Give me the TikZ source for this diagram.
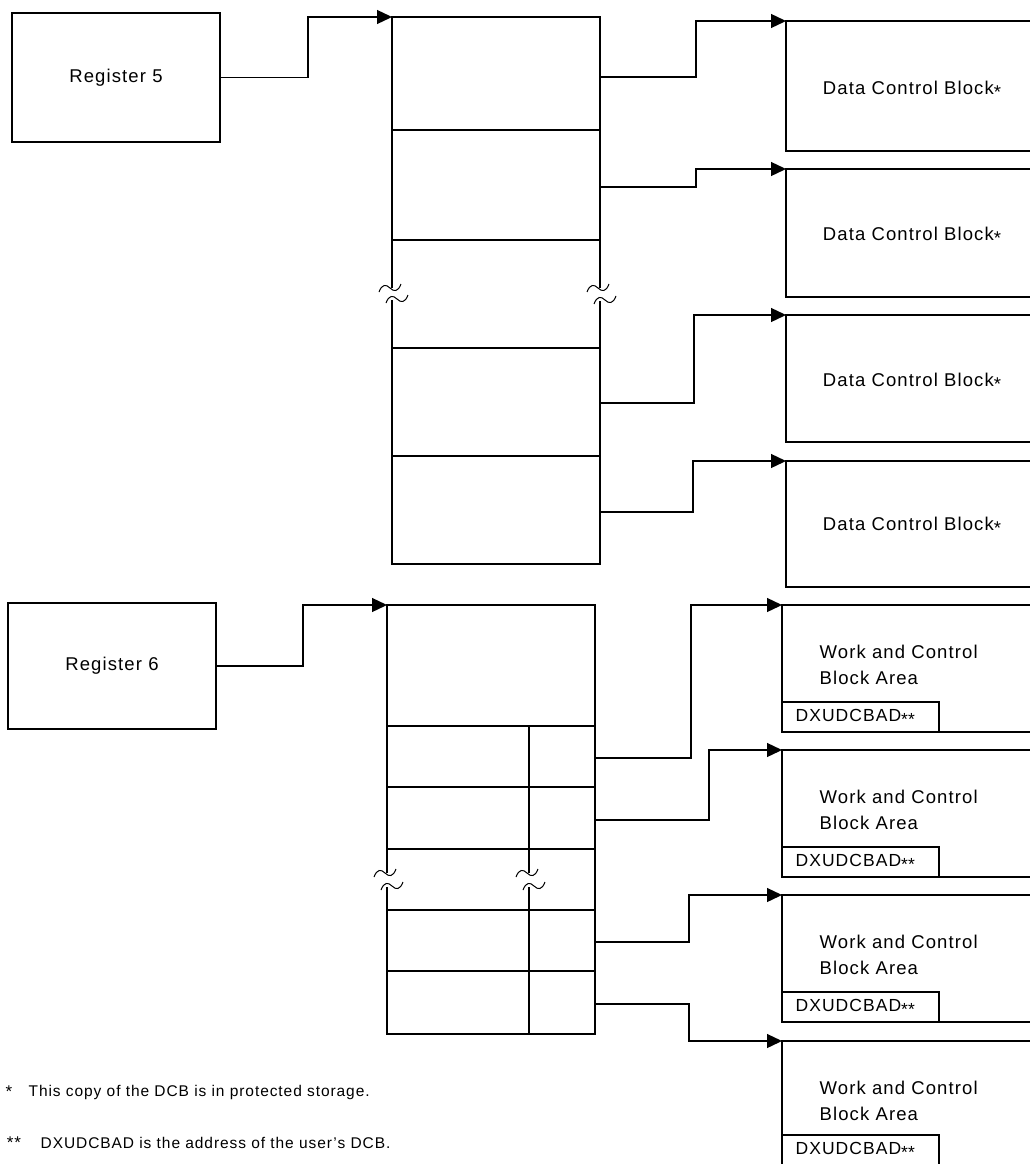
\documentclass[tikz,border=0pt]{standalone}
\usepackage{fontspec}
\setmainfont{Liberation Sans}[LetterSpace=6]
\usetikzlibrary{arrows.meta}
\newcommand\starmark{\raisebox{-4pt}{*}}
\begin{document}
\begin{tikzpicture}[x=1pt,y=-1pt,line width=1.3pt,
  box/.style={draw, inner sep=0pt, outer sep=0pt, anchor=north west},
  lbl/.style={inner sep=0pt, font=\fontsize{18.5}{26}\selectfont},
  tag/.style={inner sep=0pt, anchor=west, font=\fontsize{17.5}{20}\selectfont},
  fn/.style={inner sep=0pt, anchor=west, font=\fontsize{15.5}{18}\selectfont},
  mk/.style={inner sep=0pt, font=\fontsize{17}{17}\selectfont},
  link/.style={draw, -{Triangle[length=15pt,width=14pt]}},
  brk/.pic={\draw[line width=1pt] (-11,4) .. controls (-8,-4) and (-4,-4) .. (0,0) .. controls (4,4) and (8,4) .. (11,-4);}]
\useasboundingbox (0,0) rectangle (1029,1164);

% ---------- register 5 and its pointer table ----------
\node[box, minimum width=208pt, minimum height=129pt] (reg5) at (12,13) {};
\node[lbl] (reg5t) at (reg5.center) {Register 5};

% table outline, broken in the middle
\draw (392,288) -- (392,17) -- (600,17) -- (600,288);
\draw (392,300) -- (392,564) -- (600,564) -- (600,301);
\pic at (390,288) {brk};
\pic at (397,299) {brk};
\pic at (598,288) {brk};
\pic at (605,300) {brk};
\foreach \yy in {130,240,348,456} \draw (392,\yy) -- (600,\yy);
\coordinate (tabA) at (392,17);

% data control blocks
\node[box, minimum width=260pt, minimum height=130pt] (dcb1) at (786,21) {};
\node[box, minimum width=260pt, minimum height=128pt] (dcb2) at (786,169) {};
\node[box, minimum width=260pt, minimum height=127pt] (dcb3) at (786,315) {};
\node[box, minimum width=260pt, minimum height=126pt] (dcb4) at (786,461) {};
\node[lbl] (dcb1t) at (912,90) {Data Control Block\starmark};
\node[lbl] (dcb2t) at (912,236) {Data Control Block\starmark};
\node[lbl] (dcb3t) at (912,382) {Data Control Block\starmark};
\node[lbl] (dcb4t) at (912,526) {Data Control Block\starmark};

% pointer slots of the first table
\coordinate (a1) at (600,77);
\coordinate (a2) at (600,187);
\coordinate (a3) at (600,403);
\coordinate (a4) at (600,512);

\draw[link] (reg5.east) -- ++(88,0) |- (tabA);
\draw[link] (a1) -- ++(96,0) |- (dcb1.north west);
\draw[link] (a2) -- ++(96,0) |- (dcb2.north west);
\draw[link] (a3) -- ++(94,0) |- (dcb3.north west);
\draw[link] (a4) -- ++(93,0) |- (dcb4.north west);

% ---------- register 6 and its pointer table ----------
\node[box, minimum width=208pt, minimum height=126pt] (reg6) at (8,603) {};
\node[lbl] (reg6t) at (reg6.center) {Register 6};

\draw (387,873) -- (387,605) -- (595,605) -- (595,1034) -- (387,1034) -- (387,887);
\pic at (385,873) {brk};
\pic at (392,886) {brk};
\draw (529,726) -- (529,873);
\draw (529,887) -- (529,1034);
\pic at (527,873) {brk};
\pic at (534,886) {brk};
\foreach \yy in {726,787,849,910,971} \draw (387,\yy) -- (595,\yy);
\coordinate (tabB) at (387,605);

% work and control block areas
\foreach \i/\top/\h in {1/605/127, 2/750/127, 3/895/127, 4/1041/124} {
  \node[box, minimum width=264pt, minimum height=\h pt] (wcb\i) at (782,\top) {};
  \node[box, minimum width=157pt, minimum height=30pt, anchor=south west] (wsub\i) at (wcb\i.south west) {};
  \node[lbl, align=left, anchor=west] (wcbt\i) at (819,\top+60) {Work and Control\\Block Area};
  \node[tag] (wsubt\i) at ([xshift=13pt]wsub\i.west) {DXUDCBAD\starmark\starmark};
}

\coordinate (b1) at (595,758);
\coordinate (b2) at (595,820);
\coordinate (b3) at (595,942);
\coordinate (b4) at (595,1004);

\draw[link] (reg6.east) -- ++(87,0) |- (tabB);
\draw[link] (b1) -- ++(96,0) |- (wcb1.north west);
\draw[link] (b2) -- ++(114,0) |- (wcb2.north west);
\draw[link] (b3) -- ++(94,0) |- (wcb3.north west);
\draw[link] (b4) -- ++(94,0) |- (wcb4.north west);

% ---------- footnotes ----------
\node[mk] (fm1) at (9,1092) {*};
\node[fn] (fn1) at (28,1092) {This copy of the DCB is in protected storage.};
\node[mk] (fm2) at (14,1143) {**};
\node[fn] (fn2) at (40,1143) {DXUDCBAD is the address of the user's DCB.};
\end{tikzpicture}
\end{document}
